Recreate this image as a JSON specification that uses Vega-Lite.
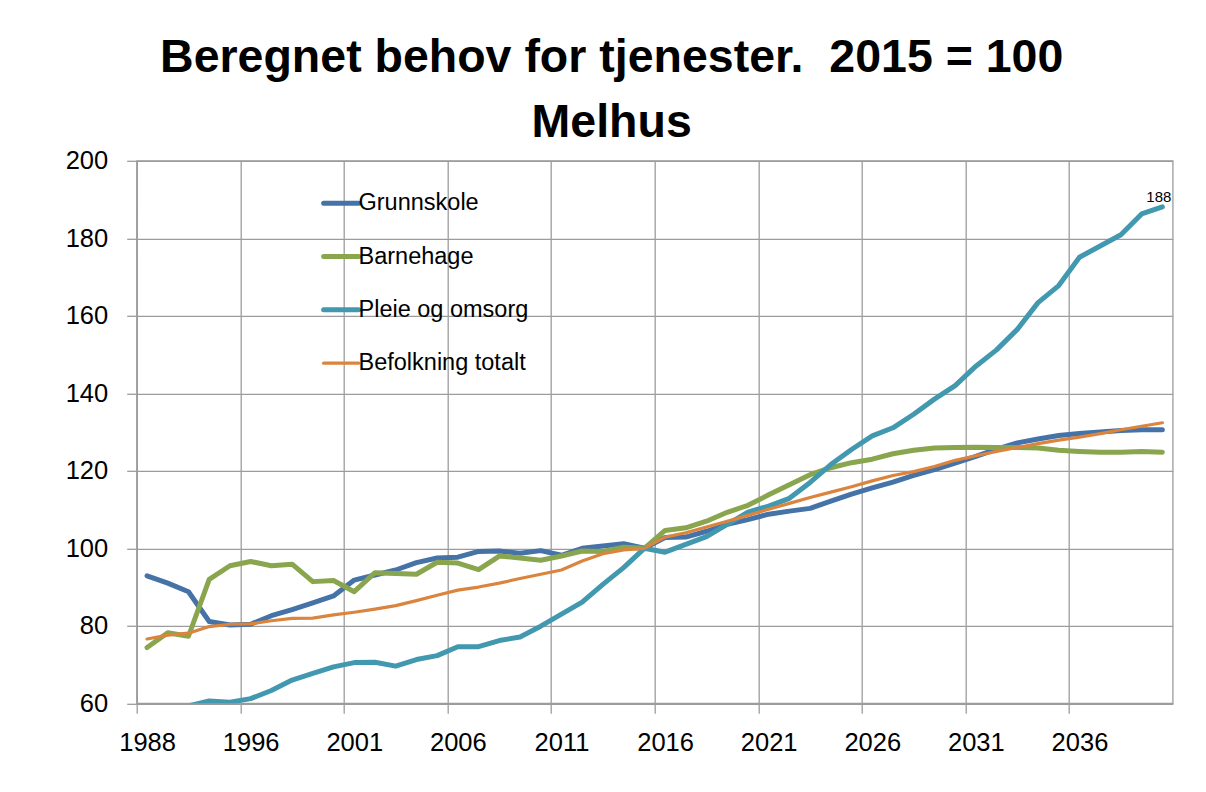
{
  "$schema": "https://vega.github.io/schema/vega-lite/v6.json",
  "width": 1036,
  "height": 542.5,
  "autosize": {"type": "none"},
  "padding": {"left": 136.7, "top": 160.8, "right": 33.3, "bottom": 88.7},
  "background": "white",
  "config": {
    "view": {"stroke": "#9c9c9c", "strokeWidth": 1.3},
    "font": "Liberation Sans"
  },
  "title": {
    "text": ["Beregnet behov for tjenester. \u00a02015 = 100", "Melhus"],
    "font": "Liberation Sans",
    "fontSize": 46.5,
    "fontWeight": "bold",
    "color": "#000000",
    "anchor": "middle",
    "frame": "group",
    "baseline": "alphabetic",
    "lineHeight": 65,
    "dx": -43,
    "offset": -35
  },
  "data": {
    "values": [
      {"year":1988,"series":"Grunnskole","value":92.9},{"year":1990,"series":"Grunnskole","value":91.0},{"year":1992,"series":"Grunnskole","value":88.8},{"year":1994,"series":"Grunnskole","value":81.1},{"year":1995,"series":"Grunnskole","value":80.2},{"year":1996,"series":"Grunnskole","value":80.4},{"year":1997,"series":"Grunnskole","value":82.6},{"year":1998,"series":"Grunnskole","value":84.2},{"year":1999,"series":"Grunnskole","value":85.9},{"year":2000,"series":"Grunnskole","value":87.7},{"year":2001,"series":"Grunnskole","value":91.8},{"year":2002,"series":"Grunnskole","value":93.1},{"year":2003,"series":"Grunnskole","value":94.4},{"year":2004,"series":"Grunnskole","value":96.3},{"year":2005,"series":"Grunnskole","value":97.5},{"year":2006,"series":"Grunnskole","value":97.7},{"year":2007,"series":"Grunnskole","value":99.2},{"year":2008,"series":"Grunnskole","value":99.3},{"year":2009,"series":"Grunnskole","value":98.7},{"year":2010,"series":"Grunnskole","value":99.4},{"year":2011,"series":"Grunnskole","value":98.2},{"year":2012,"series":"Grunnskole","value":100.0},{"year":2013,"series":"Grunnskole","value":100.6},{"year":2014,"series":"Grunnskole","value":101.2},{"year":2015,"series":"Grunnskole","value":100.0},{"year":2016,"series":"Grunnskole","value":102.8},{"year":2017,"series":"Grunnskole","value":102.9},{"year":2018,"series":"Grunnskole","value":104.4},{"year":2019,"series":"Grunnskole","value":106.2},{"year":2020,"series":"Grunnskole","value":107.4},{"year":2021,"series":"Grunnskole","value":108.8},{"year":2022,"series":"Grunnskole","value":109.6},{"year":2023,"series":"Grunnskole","value":110.3},{"year":2024,"series":"Grunnskole","value":112.2},{"year":2025,"series":"Grunnskole","value":114.0},{"year":2026,"series":"Grunnskole","value":115.6},{"year":2027,"series":"Grunnskole","value":117.1},{"year":2028,"series":"Grunnskole","value":118.8},{"year":2029,"series":"Grunnskole","value":120.3},{"year":2030,"series":"Grunnskole","value":122.0},{"year":2031,"series":"Grunnskole","value":123.7},{"year":2032,"series":"Grunnskole","value":125.6},{"year":2033,"series":"Grunnskole","value":127.2},{"year":2034,"series":"Grunnskole","value":128.2},{"year":2035,"series":"Grunnskole","value":129.1},{"year":2036,"series":"Grunnskole","value":129.6},{"year":2037,"series":"Grunnskole","value":130.0},{"year":2038,"series":"Grunnskole","value":130.4},{"year":2039,"series":"Grunnskole","value":130.6},{"year":2040,"series":"Grunnskole","value":130.6},
      {"year":1988,"series":"Barnehage","value":74.4},{"year":1990,"series":"Barnehage","value":78.2},{"year":1992,"series":"Barnehage","value":77.3},{"year":1994,"series":"Barnehage","value":92.0},{"year":1995,"series":"Barnehage","value":95.5},{"year":1996,"series":"Barnehage","value":96.6},{"year":1997,"series":"Barnehage","value":95.5},{"year":1998,"series":"Barnehage","value":95.9},{"year":1999,"series":"Barnehage","value":91.4},{"year":2000,"series":"Barnehage","value":91.7},{"year":2001,"series":"Barnehage","value":88.8},{"year":2002,"series":"Barnehage","value":93.7},{"year":2003,"series":"Barnehage","value":93.5},{"year":2004,"series":"Barnehage","value":93.3},{"year":2005,"series":"Barnehage","value":96.4},{"year":2006,"series":"Barnehage","value":96.2},{"year":2007,"series":"Barnehage","value":94.5},{"year":2008,"series":"Barnehage","value":98.0},{"year":2009,"series":"Barnehage","value":97.5},{"year":2010,"series":"Barnehage","value":96.9},{"year":2011,"series":"Barnehage","value":98.0},{"year":2012,"series":"Barnehage","value":99.3},{"year":2013,"series":"Barnehage","value":99.2},{"year":2014,"series":"Barnehage","value":100.3},{"year":2015,"series":"Barnehage","value":100.0},{"year":2016,"series":"Barnehage","value":104.6},{"year":2017,"series":"Barnehage","value":105.3},{"year":2018,"series":"Barnehage","value":107.0},{"year":2019,"series":"Barnehage","value":109.3},{"year":2020,"series":"Barnehage","value":111.1},{"year":2021,"series":"Barnehage","value":113.8},{"year":2022,"series":"Barnehage","value":116.4},{"year":2023,"series":"Barnehage","value":119.0},{"year":2024,"series":"Barnehage","value":120.8},{"year":2025,"series":"Barnehage","value":122.1},{"year":2026,"series":"Barnehage","value":123.0},{"year":2027,"series":"Barnehage","value":124.4},{"year":2028,"series":"Barnehage","value":125.3},{"year":2029,"series":"Barnehage","value":125.9},{"year":2030,"series":"Barnehage","value":126.0},{"year":2031,"series":"Barnehage","value":126.1},{"year":2032,"series":"Barnehage","value":126.0},{"year":2033,"series":"Barnehage","value":126.0},{"year":2034,"series":"Barnehage","value":125.9},{"year":2035,"series":"Barnehage","value":125.3},{"year":2036,"series":"Barnehage","value":125.0},{"year":2037,"series":"Barnehage","value":124.8},{"year":2038,"series":"Barnehage","value":124.8},{"year":2039,"series":"Barnehage","value":125.0},{"year":2040,"series":"Barnehage","value":124.8},
      {"year":1992,"series":"Pleie og omsorg","value":59.3},{"year":1994,"series":"Pleie og omsorg","value":60.6},{"year":1995,"series":"Pleie og omsorg","value":60.3},{"year":1996,"series":"Pleie og omsorg","value":61.2},{"year":1997,"series":"Pleie og omsorg","value":63.3},{"year":1998,"series":"Pleie og omsorg","value":66.0},{"year":1999,"series":"Pleie og omsorg","value":67.7},{"year":2000,"series":"Pleie og omsorg","value":69.4},{"year":2001,"series":"Pleie og omsorg","value":70.5},{"year":2002,"series":"Pleie og omsorg","value":70.6},{"year":2003,"series":"Pleie og omsorg","value":69.6},{"year":2004,"series":"Pleie og omsorg","value":71.3},{"year":2005,"series":"Pleie og omsorg","value":72.3},{"year":2006,"series":"Pleie og omsorg","value":74.6},{"year":2007,"series":"Pleie og omsorg","value":74.6},{"year":2008,"series":"Pleie og omsorg","value":76.2},{"year":2009,"series":"Pleie og omsorg","value":77.1},{"year":2010,"series":"Pleie og omsorg","value":79.9},{"year":2011,"series":"Pleie og omsorg","value":83.0},{"year":2012,"series":"Pleie og omsorg","value":86.1},{"year":2013,"series":"Pleie og omsorg","value":90.7},{"year":2014,"series":"Pleie og omsorg","value":95.0},{"year":2015,"series":"Pleie og omsorg","value":100.0},{"year":2016,"series":"Pleie og omsorg","value":99.0},{"year":2017,"series":"Pleie og omsorg","value":101.0},{"year":2018,"series":"Pleie og omsorg","value":103.0},{"year":2019,"series":"Pleie og omsorg","value":106.2},{"year":2020,"series":"Pleie og omsorg","value":109.3},{"year":2021,"series":"Pleie og omsorg","value":110.9},{"year":2022,"series":"Pleie og omsorg","value":112.9},{"year":2023,"series":"Pleie og omsorg","value":117.0},{"year":2024,"series":"Pleie og omsorg","value":121.6},{"year":2025,"series":"Pleie og omsorg","value":125.5},{"year":2026,"series":"Pleie og omsorg","value":129.0},{"year":2027,"series":"Pleie og omsorg","value":131.1},{"year":2028,"series":"Pleie og omsorg","value":134.6},{"year":2029,"series":"Pleie og omsorg","value":138.5},{"year":2030,"series":"Pleie og omsorg","value":142.0},{"year":2031,"series":"Pleie og omsorg","value":147.0},{"year":2032,"series":"Pleie og omsorg","value":151.2},{"year":2033,"series":"Pleie og omsorg","value":156.5},{"year":2034,"series":"Pleie og omsorg","value":163.4},{"year":2035,"series":"Pleie og omsorg","value":167.8},{"year":2036,"series":"Pleie og omsorg","value":175.1},{"year":2037,"series":"Pleie og omsorg","value":178.0},{"year":2038,"series":"Pleie og omsorg","value":180.9},{"year":2039,"series":"Pleie og omsorg","value":186.3},{"year":2040,"series":"Pleie og omsorg","value":188.1},
      {"year":1988,"series":"Befolkning totalt","value":76.6},{"year":1990,"series":"Befolkning totalt","value":77.6},{"year":1992,"series":"Befolkning totalt","value":78.1},{"year":1994,"series":"Befolkning totalt","value":79.8},{"year":1995,"series":"Befolkning totalt","value":80.4},{"year":1996,"series":"Befolkning totalt","value":80.5},{"year":1997,"series":"Befolkning totalt","value":81.3},{"year":1998,"series":"Befolkning totalt","value":81.9},{"year":1999,"series":"Befolkning totalt","value":82.0},{"year":2000,"series":"Befolkning totalt","value":82.8},{"year":2001,"series":"Befolkning totalt","value":83.5},{"year":2002,"series":"Befolkning totalt","value":84.3},{"year":2003,"series":"Befolkning totalt","value":85.2},{"year":2004,"series":"Befolkning totalt","value":86.5},{"year":2005,"series":"Befolkning totalt","value":87.9},{"year":2006,"series":"Befolkning totalt","value":89.2},{"year":2007,"series":"Befolkning totalt","value":90.0},{"year":2008,"series":"Befolkning totalt","value":91.0},{"year":2009,"series":"Befolkning totalt","value":92.2},{"year":2010,"series":"Befolkning totalt","value":93.3},{"year":2011,"series":"Befolkning totalt","value":94.4},{"year":2012,"series":"Befolkning totalt","value":96.7},{"year":2013,"series":"Befolkning totalt","value":98.6},{"year":2014,"series":"Befolkning totalt","value":99.6},{"year":2015,"series":"Befolkning totalt","value":100.0},{"year":2016,"series":"Befolkning totalt","value":102.9},{"year":2017,"series":"Befolkning totalt","value":104.0},{"year":2018,"series":"Befolkning totalt","value":105.5},{"year":2019,"series":"Befolkning totalt","value":107.0},{"year":2020,"series":"Befolkning totalt","value":108.5},{"year":2021,"series":"Befolkning totalt","value":110.1},{"year":2022,"series":"Befolkning totalt","value":111.6},{"year":2023,"series":"Befolkning totalt","value":113.1},{"year":2024,"series":"Befolkning totalt","value":114.5},{"year":2025,"series":"Befolkning totalt","value":115.9},{"year":2026,"series":"Befolkning totalt","value":117.4},{"year":2027,"series":"Befolkning totalt","value":118.8},{"year":2028,"series":"Befolkning totalt","value":119.8},{"year":2029,"series":"Befolkning totalt","value":121.1},{"year":2030,"series":"Befolkning totalt","value":122.7},{"year":2031,"series":"Befolkning totalt","value":123.9},{"year":2032,"series":"Befolkning totalt","value":125.0},{"year":2033,"series":"Befolkning totalt","value":126.0},{"year":2034,"series":"Befolkning totalt","value":127.0},{"year":2035,"series":"Befolkning totalt","value":127.9},{"year":2036,"series":"Befolkning totalt","value":128.7},{"year":2037,"series":"Befolkning totalt","value":129.6},{"year":2038,"series":"Befolkning totalt","value":130.6},{"year":2039,"series":"Befolkning totalt","value":131.5},{"year":2040,"series":"Befolkning totalt","value":132.4}
    ]
  },
  "encoding": {
    "x": {
      "field": "year",
      "type": "ordinal",
      "scale": {"type": "point", "padding": 0.5},
      "axis": {
        "title": null,
        "values": [1988, 1996, 2001, 2006, 2011, 2016, 2021, 2026, 2031, 2036],
        "tickOffset": -10.36,
        "labelOffset": 10.36,
        "labelAngle": 0,
        "labelFont": "Liberation Sans",
        "labelFontSize": 25.5,
        "labelColor": "#000000",
        "labelPadding": 17,
        "tickSize": 10,
        "tickColor": "#9c9c9c",
        "tickWidth": 1.3,
        "domainColor": "#9c9c9c",
        "domainWidth": 1.3,
        "grid": true,
        "gridColor": "#9c9c9c",
        "gridWidth": 1.3
      }
    },
    "y": {
      "field": "value",
      "type": "quantitative",
      "scale": {"domain": [60, 200], "nice": false, "zero": false},
      "axis": {
        "title": null,
        "values": [60, 80, 100, 120, 140, 160, 180, 200],
        "labelFont": "Liberation Sans",
        "labelFontSize": 25.5,
        "labelColor": "#000000",
        "labelPadding": 19,
        "tickSize": 10,
        "tickColor": "#9c9c9c",
        "tickWidth": 1.3,
        "domainColor": "#9c9c9c",
        "domainWidth": 1.3,
        "grid": true,
        "gridColor": "#9c9c9c",
        "gridWidth": 1.3
      }
    }
  },
  "layer": [
    {
      "mark": {"type": "line", "clip": true, "strokeCap": "round", "strokeJoin": "round"},
      "encoding": {
        "color": {
          "field": "series",
          "type": "nominal",
          "sort": ["Grunnskole", "Barnehage", "Pleie og omsorg", "Befolkning totalt"],
          "scale": {
            "domain": ["Grunnskole", "Barnehage", "Pleie og omsorg", "Befolkning totalt"],
            "range": ["#4572A7", "#89A54E", "#4198AF", "#DB843D"]
          },
          "legend": {
            "title": null,
            "orient": "none",
            "legendX": 192.7,
            "legendY": 30.7,
            "padding": 0,
            "symbolType": "stroke",
            "symbolSize": 1225,
            "symbolStrokeWidth": 5,
            "labelFont": "Liberation Sans",
            "labelFontSize": 23.5,
            "labelColor": "#000000",
            "labelOffset": 5.6,
            "rowPadding": 28.3,
            "labelLimit": 400,
            "encode": {
              "symbols": {
                "update": {
                  "strokeWidth": {"signal": "datum.value === 'Befolkning totalt' ? 3.2 : 5"},
                  "strokeCap": {"value": "round"}
                }
              }
            }
          }
        },
        "strokeWidth": {
          "condition": {"test": "datum.series === 'Befolkning totalt'", "value": 3.2},
          "value": 5
        }
      }
    },
    {
      "transform": [{"filter": "datum.series === 'Pleie og omsorg' && datum.year === 2040"}],
      "mark": {"type": "text", "font": "Liberation Sans", "fontSize": 15, "color": "#000000", "baseline": "alphabetic", "align": "center", "dx": -3.5, "dy": -5},
      "encoding": {
        "text": {"field": "value", "type": "quantitative", "format": ".0f"}
      }
    }
  ]
}
